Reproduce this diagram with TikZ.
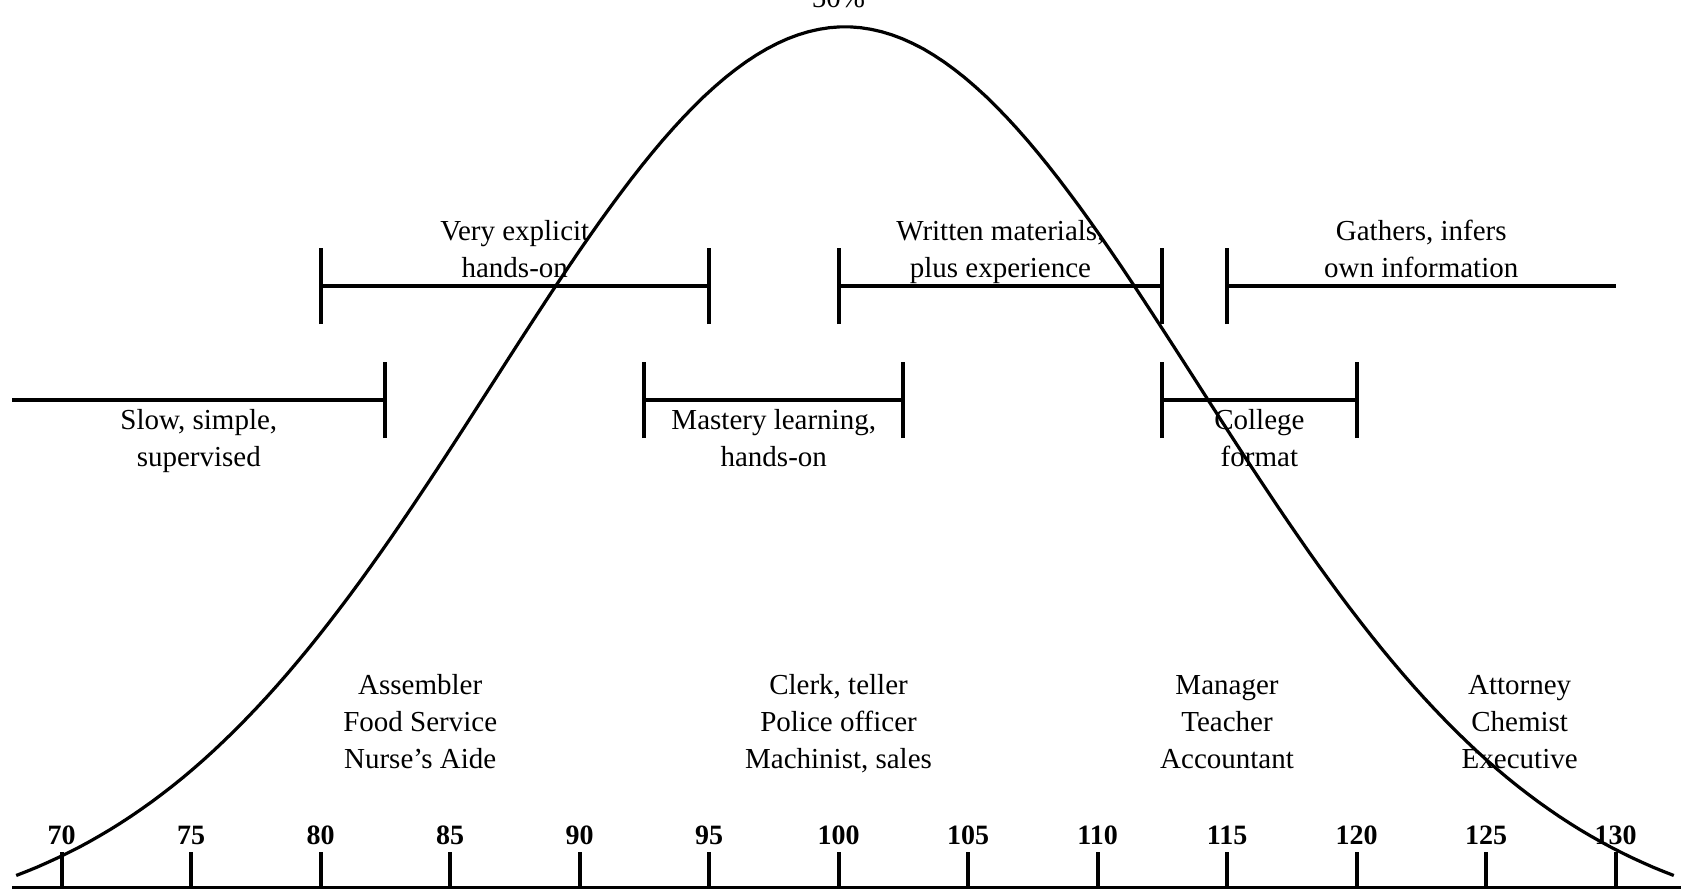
\documentclass[tikz,border=0pt]{standalone}
\usepackage{fontspec}
\setmainfont{Liberation Serif}
\begin{document}
\begin{tikzpicture}[x=0.4551cm, y=1.7573cm,
  span/.style={line width=1.8pt},
  stopbar/.style={line width=2pt},
  lbl/.style={font=\fontsize{14.5}{18.5}\selectfont, align=center, inner sep=0pt, anchor=base},
  iq/.style={font=\fontsize{14}{16}\selectfont\bfseries, inner sep=0pt, anchor=base}]
\useasboundingbox (67.625,-0.01) rectangle (132.53,8.87);
% axis with IQ scale
\draw[line width=1.5pt] (68.1,0) -- (132.53,0);
\foreach \v in {70,75,...,130} {
  \draw[stopbar] (\v,0) -- (\v,0.35);
  \node[iq] (iq\v) at (\v,0.43) {\v};
}
% bell curve
\draw[line width=1.6pt, domain=68.25:132.25, samples=160]
  plot (\x, {9.0526*(exp(-((\x-100.25)^2/370))-0.05)});
\node[lbl] (peak) at (100,8.79) {50\%};
% upper row of ranges
\foreach \a/\b in {80/95, 100/112.5} {
  \draw[span] (\a,6.01) -- (\b,6.01);
  \draw[stopbar] (\a,5.63) -- (\a,6.39);
  \draw[stopbar] (\b,5.63) -- (\b,6.39);
}
\draw[span] (115,6.01) -- (130,6.01);
\draw[stopbar] (115,5.63) -- (115,6.39);
\node[lbl] (explicit) at (87.5,6.10) {Very explicit\\hands-on};
\node[lbl] (written) at (106.25,6.10) {Written materials,\\plus experience};
\node[lbl] (gathers) at (122.5,6.10) {Gathers, infers\\own information};
% lower row of ranges
\foreach \a/\b in {92.5/102.5, 112.5/120} {
  \draw[span] (\a,4.87) -- (\b,4.87);
  \draw[stopbar] (\a,4.49) -- (\a,5.25);
  \draw[stopbar] (\b,4.49) -- (\b,5.25);
}
\draw[span] (68.1,4.87) -- (82.5,4.87);
\draw[stopbar] (82.5,4.49) -- (82.5,5.25);
\node[lbl] (slow) at (75.3,4.21) {Slow, simple,\\supervised};
\node[lbl] (mastery) at (97.5,4.21) {Mastery learning,\\hands-on};
\node[lbl] (college) at (116.25,4.21) {College\\format};
% occupations
\node[lbl] (jobsA) at (83.85,1.19) {Assembler\\Food Service\\Nurse's Aide};
\node[lbl] (jobsB) at (100,1.19) {Clerk, teller\\Police officer\\Machinist, sales};
\node[lbl] (jobsC) at (115,1.19) {Manager\\Teacher\\Accountant};
\node[lbl] (jobsD) at (126.3,1.19) {Attorney\\Chemist\\Executive};
\end{tikzpicture}
\end{document}
